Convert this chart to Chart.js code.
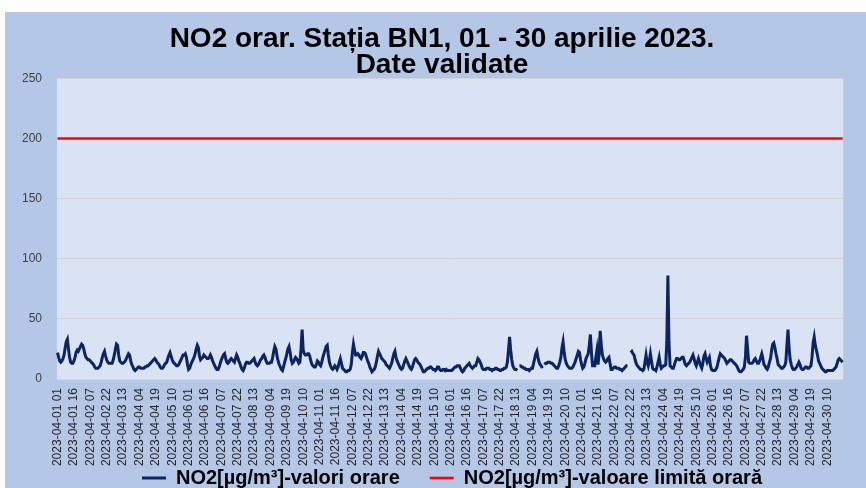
<!DOCTYPE html>
<html>
<head>
<meta charset="utf-8">
<script src="https://cdn.jsdelivr.net/npm/chart.js@4.4.0/dist/chart.umd.min.js"></script>
<style>
  html, body { margin: 0; padding: 0; background: #fff; overflow: hidden; }
  #cadru { position: absolute; left: 5px; top: 12px; width: 861px; height: 476px; background: #b4c7e7; overflow: hidden; }
  #grafic { position: absolute; left: 0; top: 0; }
</style>
</head>
<body>
<div id="cadru"><canvas id="grafic" width="861" height="515"></canvas></div>
<script>
// valori orare NO2 (µg/m³), cate o linie pe zi, ora 01..24
const no2Orar = [
  22,18,15,14,15,17,20,26,31,33,25,18,14,13,13,15,18,22,24,23,25,27,29,28, // 01
  25,21,18,17,16,16,15,14,13,12,10,9,9,9,10,11,14,18,21,23,19,16,14,13,    // 02
  13,13,13,16,20,25,29,28,20,15,14,13,13,14,15,17,19,21,20,15,12,10,8,7,   // 03
  8,9,10,10,9,9,9,9,10,10,11,11,12,13,14,15,16,17,16,14,13,12,10,9,        // 04
  9,10,12,13,14,17,20,22,19,16,14,13,12,11,11,12,14,16,18,20,20,21,18,12,  // 05
  8,9,12,14,16,18,21,25,28,26,19,16,17,18,20,19,18,17,17,18,20,18,15,13,   // 06
  11,9,8,8,10,13,16,18,20,21,17,14,13,14,16,17,16,15,14,17,20,18,15,13,    // 07
  10,8,7,9,12,14,14,13,13,14,15,16,17,14,12,11,12,14,16,17,19,20,18,15,    // 08
  13,13,13,14,14,18,23,27,25,19,15,12,10,8,7,10,14,17,21,25,27,22,16,13,   // 09
  14,16,18,17,15,13,14,25,41,24,21,20,20,21,21,19,15,12,11,10,10,12,15,14, // 10
  12,11,14,18,21,24,27,28,20,14,11,9,8,9,11,10,8,10,14,17,13,9,8,7,        // 11
  6,6,7,7,8,12,22,29,24,20,20,21,20,18,17,19,22,22,21,18,15,13,10,8,       // 12
  6,7,8,10,14,19,23,21,19,17,16,15,14,12,11,10,9,11,13,17,21,23,18,15,     // 13
  13,11,9,8,9,12,15,17,15,13,11,9,8,10,13,16,17,16,14,13,12,10,8,6,        // 14
  6,7,8,9,9,10,10,9,8,8,7,8,10,10,8,7,7,8,8,7,8,7,7,7,                     // 15
  7,7,8,9,10,10,11,11,11,9,7,6,7,9,10,11,12,13,11,10,9,10,11,11,           // 16
  14,17,16,14,12,9,8,8,8,9,9,9,8,8,7,8,8,9,9,8,8,7,7,8,                    // 17
  8,9,9,10,14,24,35,24,16,11,9,8,8,7,null,11,11,10,10,9,9,8,8,8,           // 18
  7,8,9,9,13,17,21,23,18,14,12,11,9,null,12,13,13,14,14,14,13,13,12,11,    // 19
  10,9,9,11,14,18,26,31,22,16,13,11,10,9,9,9,10,12,14,17,20,23,22,16,      // 20
  12,9,10,13,17,19,21,28,37,22,11,11,11,18,24,12,20,40,28,20,17,15,14,15,  // 21
  17,18,13,8,8,9,10,10,9,9,9,8,8,7,8,9,10,11,11,null,null,22,23,21,        // 22
  20,16,13,11,10,9,8,8,7,8,14,20,14,11,15,21,15,9,8,8,7,10,14,18,          // 23
  12,9,10,11,11,12,30,86,30,11,10,9,9,12,15,17,17,16,16,17,18,18,15,12,    // 24
  11,12,13,14,16,18,20,17,13,11,14,17,14,11,9,13,19,21,17,14,16,18,11,8,   // 25
  7,7,7,8,10,14,18,21,20,19,18,17,15,13,14,15,16,16,15,14,13,12,11,9,      // 26
  7,6,6,7,8,10,18,36,25,14,13,13,13,14,16,17,15,13,13,15,18,21,17,12,      // 27
  11,9,8,10,14,17,24,29,30,26,21,17,12,11,10,9,9,10,11,14,28,41,26,16,     // 28
  12,9,8,8,9,10,12,14,12,9,8,8,9,10,10,9,9,10,11,18,30,35,28,24,           // 29
  20,15,13,11,9,8,7,6,6,7,7,7,7,7,7,8,9,10,13,16,17,16,15,14               // 30
];
const valoareLimita = 200;
const zile = 30;
const oreZi = 24;
const pasEticheta = 15;
const yTicks = [0, 50, 100, 150, 200, 250];

const doua = n => String(n).padStart(2, '0');
const etichete = [];
for (let z = 1; z <= zile; z++) {
  for (let h = 1; h <= oreZi; h++) {
    etichete.push(`2023-04-${doua(z)} ${doua(h)}`);
  }
}
const limita = etichete.map(() => valoareLimita);

const font = "'Liberation Sans', Arial, sans-serif";

const fundalZona = {
  id: 'fundalZona',
  beforeDraw(chart) {
    const { ctx, chartArea: a } = chart;
    ctx.save();
    ctx.fillStyle = '#dae3f3';
    ctx.fillRect(a.left, a.top, a.right - a.left, a.bottom - a.top);
    ctx.restore();
  }
};

// titlul si legenda: mutate ca in original (legenda urca peste zona axei x)
const asezare = {
  id: 'asezare',
  afterLayout(chart) {
    const t = chart.titleBlock, l = chart.legend;
    t.left += 17; t.right += 17;
    l.left += 27; l.right += 27;
    l.top -= 29; l.bottom -= 29;
  }
};

const ctx = document.getElementById('grafic').getContext('2d');
const grafic = new Chart(ctx, {
  type: 'line',
  data: {
    labels: etichete,
    datasets: [{
      label: 'NO2[µg/m³]-valori orare',
      data: no2Orar,
      borderColor: '#0b2463',
      backgroundColor: '#0b2463',
      borderWidth: 3,
      pointRadius: 0,
      tension: 0,
      spanGaps: false
    }, {
      label: 'NO2[µg/m³]-valoare limită orară',
      data: limita,
      borderColor: '#ff0000',
      backgroundColor: '#ff0000',
      borderWidth: 2.6,
      pointRadius: 0
    }]
  },
  options: {
    responsive: false,
    animation: false,
    events: [],
    layout: { padding: { left: 0, right: 21, top: 0, bottom: 0 } },
    scales: {
      x: {
        offset: true,
        grid: { display: false, drawTicks: false },
        border: { display: false },
        afterFit: s => { s.height = 88; },
        ticks: {
          autoSkip: false,
          minRotation: 90,
          maxRotation: 90,
          padding: 9,
          color: '#262626',
          font: { family: font, size: 12 },
          callback: function (val, idx) {
            return idx % pasEticheta === 0 ? this.getLabelForValue(val) : '';
          }
        }
      },
      y: {
        min: 0,
        max: 250,
        afterFit: s => { s.width = 52; },
        afterBuildTicks: s => { s.ticks = yTicks.map(v => ({ value: v })); },
        grid: { color: '#d3d3d3', lineWidth: 1, drawTicks: false },
        border: { display: false },
        ticks: {
          padding: 15,
          color: '#404040',
          font: { family: font, size: 12 }
        }
      }
    },
    plugins: {
      title: {
        display: true,
        text: ['NO2 orar. Stația BN1, 01 - 30 aprilie 2023.', 'Date validate'],
        color: '#000',
        font: { family: font, size: 28, weight: 'bold', lineHeight: 0.9 },
        padding: { top: 15, bottom: 1 }
      },
      legend: {
        position: 'bottom',
        labels: {
          usePointStyle: true,
          pointStyle: 'line',
          pointStyleWidth: 24,
          padding: 30,
          color: '#000',
          font: { family: font, size: 20, weight: 'bold' }
        }
      },
      tooltip: { enabled: false }
    }
  },
  plugins: [fundalZona, asezare]
});
</script>
</body>
</html>
